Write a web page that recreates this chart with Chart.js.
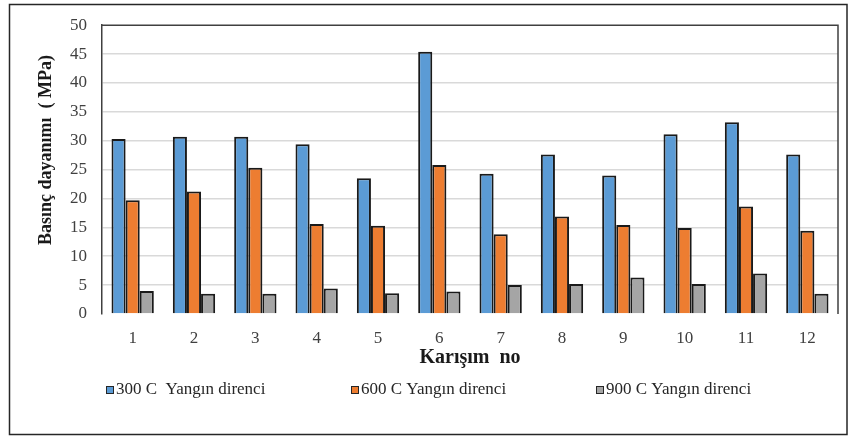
<!DOCTYPE html>
<html>
<head>
<meta charset="utf-8">
<script src="https://cdn.jsdelivr.net/npm/chart.js@4/dist/chart.umd.min.js"></script>
<style>
  html, body { margin: 0; padding: 0; background: #ffffff; }
  #wrap { width: 850px; height: 436px; }
</style>
</head>
<body>
<div id="wrap"><canvas id="c" width="850" height="436"></canvas></div>
<script>
// Mix numbers (x categories)
const mixes = ['1', '2', '3', '4', '5', '6', '7', '8', '9', '10', '11', '12'];

// Compressive strength (MPa) after fire exposure
const fire300 = [30.3, 30.7, 30.7, 29.4, 23.5, 45.4, 24.3, 27.6, 24.0, 31.1, 33.2, 27.6];
const fire600 = [19.7, 21.2, 25.3, 15.6, 15.3, 25.8, 13.8, 16.9, 15.4, 14.9, 18.6, 14.4];
const fire900 = [4.0, 3.5, 3.5, 4.4, 3.6, 3.9, 5.0, 5.2, 6.3, 5.2, 7.0, 3.5];

const seriesNames = ['300 C  Yangın direnci', '600 C Yangın direnci', '900 C Yangın direnci'];
const yTicks = [0, 5, 10, 15, 20, 25, 30, 35, 40, 45, 50];

const yTitle = 'Basınç dayanımı  ( MPa)';
const xTitle = 'Karışım  no';

const SERIF = "'Liberation Serif', 'Times New Roman', serif";

// Outer frame, plot box, rotated y title and the column legend
const decorations = {
  id: 'decorations',
  beforeDraw(chart) {
    const ctx = chart.ctx;
    ctx.save();
    ctx.fillStyle = '#ffffff';
    ctx.fillRect(0, 0, chart.width, chart.height);
    ctx.restore();
  },
  afterDraw(chart) {
    const ctx = chart.ctx;
    const a = chart.chartArea;
    ctx.save();
    // outer frame
    ctx.strokeStyle = '#262626';
    ctx.lineWidth = 1.5;
    ctx.strokeRect(9.5, 4.5, 837.5, 430);
    // plot box: top and right edges
    ctx.strokeStyle = '#404040';
    ctx.lineWidth = 1.5;
    ctx.beginPath();
    ctx.moveTo(a.left, a.top);
    ctx.lineTo(a.right, a.top);
    ctx.lineTo(a.right, a.bottom);
    ctx.stroke();

    // y axis title
    ctx.fillStyle = '#1a1a1a';
    ctx.font = 'bold 18px ' + SERIF;
    ctx.textAlign = 'center';
    ctx.textBaseline = 'middle';
    ctx.translate(46, 150);
    ctx.rotate(-Math.PI / 2);
    ctx.fillText(yTitle, 0, 0);
    ctx.restore();

    // legend in three columns
    ctx.save();
    ctx.font = '17px ' + SERIF;
    ctx.textBaseline = 'middle';
    ctx.textAlign = 'left';
    const legendLeft = 106, legendColumn = 245, legendY = 390;
    chart.data.datasets.forEach((ds, i) => {
      const x = legendLeft + i * legendColumn;
      ctx.fillStyle = ds.backgroundColor;
      ctx.fillRect(x, legendY - 4, 8, 8);
      ctx.strokeStyle = '#262626';
      ctx.lineWidth = 1;
      ctx.strokeRect(x + 0.5, legendY - 3.5, 7, 7);
      ctx.fillStyle = '#262626';
      ctx.fillText(ds.label, x + 10, legendY);
    });
    ctx.restore();
  }
};

new Chart(document.getElementById('c'), {
  type: 'bar',
  data: {
    labels: mixes,
    datasets: [
      { label: seriesNames[0], data: fire300, backgroundColor: '#5B9BD5' },
      { label: seriesNames[1], data: fire600, backgroundColor: '#ED7D31' },
      { label: seriesNames[2], data: fire900, backgroundColor: '#A5A5A5' }
    ]
  },
  options: {
    responsive: false,
    animation: false,
    devicePixelRatio: 1,
    layout: { padding: { left: 10, right: 12, top: 25, bottom: 60 } },
    datasets: {
      bar: {
        borderColor: '#1a1a1a',
        borderWidth: 2,
        categoryPercentage: 0.69,
        barPercentage: 1.0
      }
    },
    plugins: {
      legend: { display: false },
      tooltip: { enabled: false }
    },
    scales: {
      x: {
        grid: { display: false, drawTicks: false },
        border: { display: false },
        ticks: {
          padding: 14,
          color: '#404040',
          font: { family: SERIF, size: 17 }
        },
        title: {
          display: true,
          text: xTitle,
          color: '#1a1a1a',
          font: { family: SERIF, size: 20, weight: 'bold' },
          padding: { top: 0, bottom: 6 }
        },
        afterFit(scale) { scale.height = 62; }
      },
      y: {
        min: 0,
        max: 50,
        afterBuildTicks(scale) { scale.ticks = yTicks.map(v => ({ value: v })); },
        grid: {
          drawTicks: false,
          lineWidth: 1.5,
          color: (c) => (c.tick && (c.tick.value === 0 || c.tick.value === 50)) ? 'rgba(0,0,0,0)' : '#d9d9d9'
        },
        border: { display: true, color: '#404040', width: 1.5 },
        ticks: {
          padding: 15,
          color: '#404040',
          font: { family: SERIF, size: 17 }
        },
        afterFit(scale) { scale.width = 92; }
      }
    }
  },
  plugins: [decorations]
});
</script>
</body>
</html>
